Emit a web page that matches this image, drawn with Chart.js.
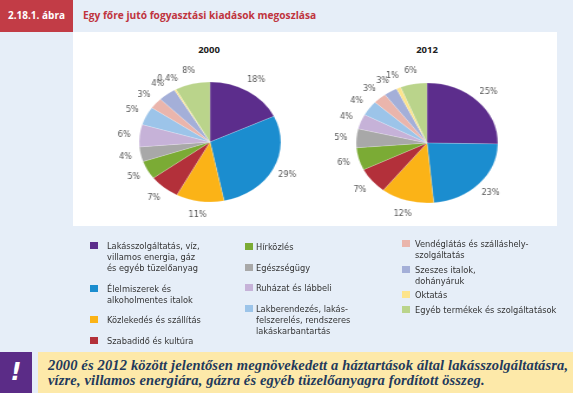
<!DOCTYPE html>
<html lang="hu">
<head>
<meta charset="utf-8">
<script src="https://cdn.jsdelivr.net/npm/chart.js@4"></script>
<style>
body { margin: 0; width: 573px; height: 393px; overflow: hidden; position: relative;
       background: #e6eef8; font-family: "DejaVu Sans Condensed", sans-serif; }
#tab { position: absolute; left: 0; top: 0; width: 73px; height: 32px; background: #c23c46;
       color: #fff; font: bold 10px "Open Sans", sans-serif; line-height: 30px; text-align: center; }
#title { position: absolute; left: 83px; top: 8px; color: #c0343e; font: bold 10.2px "Open Sans", sans-serif; }
#panel { position: absolute; left: 73px; top: 32px; width: 484px; height: 194px; background: #fff; }
.year { position: absolute; top: 43px; transform: translateX(-50%); font: bold 9.5px "Open Sans", sans-serif; color: #222; }
.pie { position: absolute; width: 200px; height: 200px; transform-origin: 100px 100px; transform: scaleX(1.18); }
.col { position: absolute; display: flex; flex-direction: column; }
.item { display: flex; align-items: flex-start; font-size: 9.2px; line-height: 11px; color: #333; white-space: pre-line; }
.sw { width: 8px; height: 7px; margin-top: 2px; margin-right: var(--gap); flex: none; }
#bang { position: absolute; left: 0; top: 352px; width: 32px; height: 41px; background: #5b2c87;
        color: #fff; font: bold italic 24px "DejaVu Sans", sans-serif; text-align: center; line-height: 41px; }
#note { position: absolute; left: 38px; top: 352px; right: 0; bottom: 0; background: #fde9a9;
        color: #22395c; font: bold italic 14.5px "Liberation Serif", serif; letter-spacing: 0.15px;
        line-height: 15px; padding: 6px 0 0 10px; }
</style>
</head>
<body>
<div id="tab">2.18.1. ábra</div>
<div id="title">Egy főre jutó fogyasztási kiadások megoszlása</div>
<div id="panel"></div>
<div class="year" style="left:209px">2000</div>
<div class="year" style="left:427px">2012</div>
<div class="pie" style="left:110px; top:42px"><canvas id="pie2000"></canvas></div>
<div class="pie" style="left:327px; top:43px"><canvas id="pie2012"></canvas></div>
<div class="col" id="col1" style="left:90px; top:240px; gap:9.5px; --gap:9px"></div>
<div class="col" id="col2" style="left:245px; top:241px; gap:9.5px; --gap:3px"></div>
<div class="col" id="col3" style="left:402px; top:238px; gap:3.5px; --gap:5px"></div>
<div id="bang">!</div>
<div id="note">2000 és 2012 között jelentősen megnövekedett a háztartások által lakásszolgáltatásra,<br>vízre, villamos energiára, gázra és egyéb tüzelőanyagra fordított összeg.</div>
<script>
const categories = [
    'Lakásszolgáltatás, víz,\nvillamos energia, gáz\nés egyéb tüzelőanyag',
    'Élelmiszerek és\nalkoholmentes italok',
    'Közlekedés és szállítás',
    'Szabadidő és kultúra',
    'Hírközlés',
    'Egészségügy',
    'Ruházat és lábbeli',
    'Lakberendezés, lakás-\nfelszerelés, rendszeres\nlakáskarbantartás',
    'Vendéglátás és szálláshely-\nszolgáltatás',
    'Szeszes italok,\ndohányáruk',
    'Oktatás',
    'Egyéb termékek és szolgáltatások'
];
const colors = ['#5c2d8c', '#1b8dcf', '#fbb317', '#b3303a', '#7bab35', '#a8a8a8',
                '#c6b2d8', '#9cc4e9', '#eab5ac', '#a4afd8', '#fde48c', '#bad48b'];
const values2000 = [18, 29, 11, 7, 5, 4, 6, 5, 3, 4, 0.4, 8];
const values2012 = [25, 23, 12, 7, 6, 5, 4, 4, 3, 3, 1, 6];

const stretch = 1.18;

// percentage labels around the (stretched) pie, drawn unstretched
const pctLabels = {
    id: 'pctLabels',
    afterDatasetsDraw(chart) {
        const ctx = chart.ctx;
        const values = chart.data.datasets[0].data;
        ctx.save();
        ctx.font = '9px "DejaVu Sans Condensed", sans-serif';
        ctx.fillStyle = '#555';
        ctx.textAlign = 'center';
        ctx.textBaseline = 'middle';
        chart.getDatasetMeta(0).data.forEach((arc, i) => {
            const p = arc.getProps(['x', 'y', 'startAngle', 'endAngle', 'outerRadius'], true);
            const mid = (p.startAngle + p.endAngle) / 2;
            const lx = p.x + Math.cos(mid) * p.outerRadius * 1.22;
            const ly = p.y + Math.sin(mid) * p.outerRadius * 1.22;
            ctx.save();
            ctx.translate(lx, ly);
            ctx.scale(1 / stretch, 1);
            ctx.fillText(String(values[i]).replace('.', ',') + '%', 0, 0);
            ctx.restore();
        });
        ctx.restore();
    }
};

function drawPie(id, values) {
    new Chart(document.getElementById(id), {
        type: 'pie',
        data: {
            labels: categories.map(c => c.replace(/\n/g, ' ')),
            datasets: [{
                data: values,
                backgroundColor: colors,
                borderColor: 'rgba(255,255,255,0.6)',
                borderWidth: 0.3,
                radius: 60
            }]
        },
        options: {
            responsive: true,
            maintainAspectRatio: false,
            animation: false,
            events: [],
            plugins: {
                legend: { display: false },
                tooltip: { enabled: false }
            }
        },
        plugins: [pctLabels]
    });
}

drawPie('pie2000', values2000);
drawPie('pie2012', values2012);

// shared legend, three columns of four
categories.forEach((cat, i) => {
    const item = document.createElement('div');
    item.className = 'item';
    item.innerHTML = `<span class="sw" style="background:${colors[i]}"></span><span></span>`;
    item.lastChild.textContent = cat;
    document.getElementById('col' + (Math.floor(i / 4) + 1)).appendChild(item);
});
</script>
</body>
</html>
